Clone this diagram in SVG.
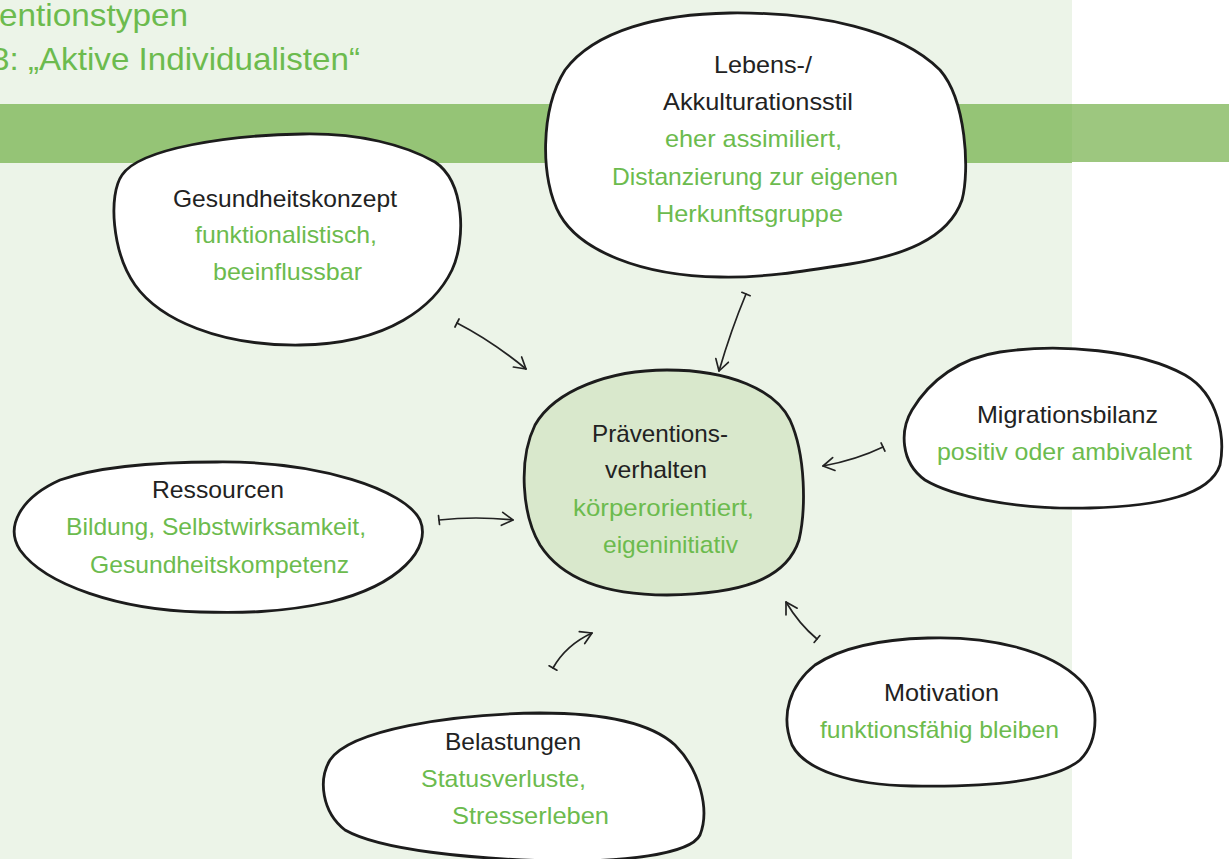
<svg xmlns="http://www.w3.org/2000/svg" width="1229" height="859" viewBox="0 0 1229 859">
<style>
.blob{fill:#ffffff;stroke:#1c1c1c;stroke-width:2.8;stroke-linejoin:round}
.core{fill:#d9e8cc;stroke:#1c1c1c;stroke-width:2.8}
.t{font-family:"Liberation Sans",Arial,sans-serif;font-size:24px;fill:#222222}
.g{font-family:"Liberation Sans",Arial,sans-serif;font-size:24px;fill:#6cbb4e}
.title{font-family:"Liberation Sans",Arial,sans-serif;font-size:32px;fill:#6cbb4e}
.c{fill:none;stroke:#222222;stroke-width:1.7;stroke-linecap:round;marker-start:url(#tick);marker-end:url(#arr)}
</style>
<defs>
<marker id="arr" viewBox="-13 -8 15 16" refX="0" refY="0" markerWidth="15" markerHeight="16" orient="auto" markerUnits="userSpaceOnUse">
<path d="M-11,-6.5 L0,0 L-11,6.5" fill="none" stroke="#222222" stroke-width="1.7" stroke-linecap="round" stroke-linejoin="round"/>
</marker>
<marker id="tick" viewBox="-2 -6 4 12" refX="0" refY="0" markerWidth="4" markerHeight="12" orient="auto" markerUnits="userSpaceOnUse">
<path d="M0,-4.5 L0,4.5" stroke="#222222" stroke-width="1.7" stroke-linecap="round"/>
</marker>
</defs>

<g id="background">
<rect x="0" y="0" width="1229" height="859" fill="#ffffff"/>
<rect x="0" y="0" width="1072" height="859" fill="#ecf4e8"/>
<rect x="0" y="104" width="1072" height="59" fill="#95c476"/>
<rect x="1072" y="104" width="157" height="58" fill="#9dc77f"/>
<text class="title" x="-1" y="26" textLength="189" lengthAdjust="spacingAndGlyphs">entionstypen</text>
<text class="title" x="-9" y="70" textLength="369" lengthAdjust="spacingAndGlyphs">3: „Aktive Individualisten“</text>
</g>

<g id="connectors">
<path class="c" d="M457,323 Q492,341 526,369"/>
<path class="c" d="M746,294 Q731,330 719,371"/>
<path class="c" d="M883,447 Q856,460 823,466"/>
<path class="c" d="M439,520 Q476,516 513,520"/>
<path class="c" d="M553,668 Q566,645 592,633"/>
<path class="c" d="M817,639 Q799,624 786,602"/>
</g>

<g id="node-gesundheitskonzept">
<path class="blob" d="M303,134 C360,133 405,145 435,162 C465,182 466,240 452,270 C435,305 390,344 300,345 C220,346 160,320 135,285 C112,252 108,195 122,175 C140,148 230,135 303,134 Z"/>
<text class="t" x="173" y="207" textLength="224" lengthAdjust="spacingAndGlyphs">Gesundheitskonzept</text>
<text class="g" x="195" y="243" textLength="182" lengthAdjust="spacingAndGlyphs">funktionalistisch,</text>
<text class="g" x="213" y="280" textLength="149" lengthAdjust="spacingAndGlyphs">beeinflussbar</text>
</g>

<g id="node-lebensstil">
<path class="blob" d="M730,13 C820,12 900,30 940,70 C966,100 970,170 962,200 C948,240 900,256 850,264 C800,272 760,278 720,277 C640,276 580,250 560,215 C540,180 540,110 565,70 C595,30 660,14 730,13 Z"/>
<text class="t" x="714" y="73" textLength="98" lengthAdjust="spacingAndGlyphs">Lebens-/</text>
<text class="t" x="663" y="110" textLength="190" lengthAdjust="spacingAndGlyphs">Akkulturationsstil</text>
<text class="g" x="665" y="147" textLength="177" lengthAdjust="spacingAndGlyphs">eher assimiliert,</text>
<text class="g" x="612" y="185" textLength="286" lengthAdjust="spacingAndGlyphs">Distanzierung zur eigenen</text>
<text class="g" x="656" y="222" textLength="187" lengthAdjust="spacingAndGlyphs">Herkunftsgruppe</text>
</g>

<g id="node-migrationsbilanz">
<path class="blob" d="M1000,352 C1060,343 1140,350 1185,375 C1220,395 1225,440 1220,465 C1210,495 1160,506 1090,508 C1010,510 950,495 925,480 C900,462 900,430 912,410 C930,380 960,358 1000,352 Z"/>
<text class="t" x="977" y="423" textLength="181" lengthAdjust="spacingAndGlyphs">Migrationsbilanz</text>
<text class="g" x="937" y="460" textLength="255" lengthAdjust="spacingAndGlyphs">positiv oder ambivalent</text>
</g>

<g id="node-praeventionsverhalten">
<path class="core" d="M667,370 C730,370 775,390 790,420 C806,455 806,510 799,540 C786,580 740,594 667,595 C600,595 560,576 540,545 C522,515 518,460 535,425 C555,390 610,370 667,370 Z"/>
<text class="t" x="592" y="442" textLength="136" lengthAdjust="spacingAndGlyphs">Präventions-</text>
<text class="t" x="605" y="478" textLength="102" lengthAdjust="spacingAndGlyphs">verhalten</text>
<text class="g" x="573" y="516" textLength="181" lengthAdjust="spacingAndGlyphs">körperorientiert,</text>
<text class="g" x="603" y="553" textLength="135" lengthAdjust="spacingAndGlyphs">eigeninitiativ</text>
</g>

<g id="node-ressourcen">
<path class="blob" d="M217,462 C320,461 405,490 420,520 C432,548 400,585 330,602 C280,613 240,613 200,612 C120,610 45,585 20,550 C5,527 20,498 60,480 C100,466 160,462 217,462 Z"/>
<text class="t" x="152" y="498" textLength="132" lengthAdjust="spacingAndGlyphs">Ressourcen</text>
<text class="g" x="66" y="535" textLength="300" lengthAdjust="spacingAndGlyphs">Bildung, Selbstwirksamkeit,</text>
<text class="g" x="90" y="573" textLength="259" lengthAdjust="spacingAndGlyphs">Gesundheitskompetenz</text>
</g>

<g id="node-belastungen">
<path class="blob" d="M540,713 C600,713 650,722 675,745 C700,770 710,810 700,835 C690,855 620,862 555,861 C470,859 380,850 345,830 C322,812 318,780 330,760 C350,730 450,714 540,713 Z"/>
<text class="t" x="445" y="750" textLength="136" lengthAdjust="spacingAndGlyphs">Belastungen</text>
<text class="g" x="421" y="787" textLength="165" lengthAdjust="spacingAndGlyphs">Statusverluste,</text>
<text class="g" x="452" y="824" textLength="157" lengthAdjust="spacingAndGlyphs">Stresserleben</text>
</g>

<g id="node-motivation">
<path class="blob" d="M928,638 C990,636 1050,650 1080,680 C1100,700 1100,740 1080,760 C1050,785 970,787 912,786 C850,785 805,770 792,745 C780,715 790,685 815,665 C845,645 890,639 928,638 Z"/>
<text class="t" x="884" y="701" textLength="115" lengthAdjust="spacingAndGlyphs">Motivation</text>
<text class="g" x="820" y="738" textLength="239" lengthAdjust="spacingAndGlyphs">funktionsfähig bleiben</text>
</g>
</svg>
